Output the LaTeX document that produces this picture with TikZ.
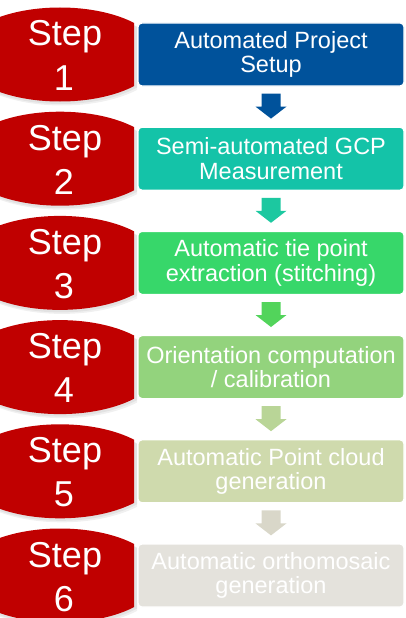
\documentclass[tikz,border=0pt]{standalone}
\usepackage{fontspec}
\setmainfont{Liberation Sans}
\usetikzlibrary{calc}

\definecolor{stepred}{HTML}{C00000}
\definecolor{cA}{HTML}{00529B}
\definecolor{cB}{HTML}{14C3A8}
\definecolor{cC}{HTML}{37D76A}
\definecolor{cD}{HTML}{93D37D}
\definecolor{cE}{HTML}{CFDAAD}
\definecolor{cF}{HTML}{E4E2DC}
\definecolor{aA}{HTML}{00529B}
\definecolor{aB}{HTML}{1CC8A0}
\definecolor{aC}{HTML}{52D45B}
\definecolor{aD}{HTML}{B9D597}
\definecolor{aE}{HTML}{D9D7C9}

\tikzset{
  stepbox/.style={draw=white, line width=1.2pt, rounded corners=4pt,
    minimum width=266pt, minimum height=63pt, inner sep=0pt,
    align=center, text=white,
    font=\fontsize{23.5}{24.5}\selectfont},
  steplabel/.style={anchor=base, inner sep=0pt, text=white,
    font=\fontsize{36}{44}\selectfont},
}

% red rounded badge on the left of each step
\newcommand{\badge}[1]{%
  \begin{scope}
    \clip (0,#1-60) rectangle (137,#1+60);
    \fill[black, opacity=0.06] (62,#1+4) ellipse [x radius=101pt, y radius=47pt];
    \fill[black, opacity=0.06] (61,#1+2.5) ellipse [x radius=100pt, y radius=47pt];
  \end{scope}
  \begin{scope}
    \clip (0,#1-60) rectangle (134,#1+60);
    \fill[stepred] (60,#1) ellipse [x radius=100pt, y radius=47pt];
  \end{scope}}

% block arrow from one step box to the next
\newcommand{\blockarrow}[3]{%
  \fill[#3] ($(#1.south)+(-9.5,7)$) -- ($(#1.south)+(9.5,7)$)
    -- ($(#2.north)+(9.5,-20)$) -- ($(#2.north)+(15.5,-20)$)
    -- ($(#2.north)+(0,-8)$) -- ($(#2.north)+(-15.5,-20)$)
    -- ($(#2.north)+(-9.5,-20)$) -- cycle;}

\begin{document}
\begin{tikzpicture}[x=1pt, y=-1pt]
\useasboundingbox (0,0) rectangle (405,618);

\badge{54.5}
\badge{158.7}
\badge{262.9}
\badge{367.1}
\badge{471.3}
\badge{575.5}

\node[steplabel] (s1) at (65,46)    {Step};
\node[steplabel] (n1) at (64,90)    {1};
\node[steplabel] (s2) at (65,150.2) {Step};
\node[steplabel] (n2) at (64,194.2) {2};
\node[steplabel] (s3) at (65,254.4) {Step};
\node[steplabel] (n3) at (64,298.4) {3};
\node[steplabel] (s4) at (65,358.6) {Step};
\node[steplabel] (n4) at (64,402.6) {4};
\node[steplabel] (s5) at (65,462.8) {Step};
\node[steplabel] (n5) at (64,506.8) {5};
\node[steplabel] (s6) at (65,567)   {Step};
\node[steplabel] (n6) at (64,611)   {6};

\node[stepbox, fill=cA] (b1) at (271,54.5)  {Automated Project\\Setup};
\node[stepbox, fill=cB] (b2) at (271,158.7) {Semi-automated GCP\\Measurement};
\node[stepbox, fill=cC] (b3) at (271,262.9) {Automatic tie point\\extraction (stitching)};
\node[stepbox, fill=cD] (b4) at (271,367.1) {Orientation computation\\/ calibration};
\node[stepbox, fill=cE] (b5) at (271,471.3) {Automatic Point cloud\\generation};
\node[stepbox, fill=cF] (b6) at (271,575.5) {Automatic orthomosaic\\generation};

\blockarrow{b1}{b2}{aA}
\blockarrow{b2}{b3}{aB}
\blockarrow{b3}{b4}{aC}
\blockarrow{b4}{b5}{aD}
\blockarrow{b5}{b6}{aE}
\end{tikzpicture}
\end{document}
